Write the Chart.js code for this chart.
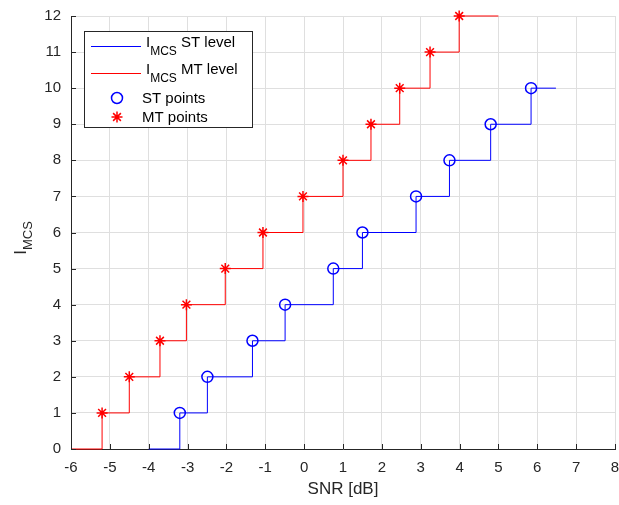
<!DOCTYPE html>
<html>
<head>
<meta charset="utf-8">
<script src="https://cdn.jsdelivr.net/npm/chart.js@4.4.0/dist/chart.umd.min.js"></script>
<style>
  html, body { margin: 0; padding: 0; background: #fff; }
</style>
</head>
<body>
<canvas id="chart" width="619" height="505"></canvas>
<script>
  // switching points (SNR in dB) for each MCS level
  const stLevels = [1, 2, 3, 4, 5, 6, 7, 8, 9, 10];
  const stSnr = [-3.2, -2.49, -1.33, -0.49, 0.75, 1.5, 2.88, 3.74, 4.8, 5.84];
  const mtLevels = [1, 2, 3, 4, 5, 6, 7, 8, 9, 10, 11, 12];
  const mtSnr = [-5.2, -4.5, -3.71, -3.03, -2.03, -1.06, -0.03, 1.0, 1.72, 2.46, 3.24, 3.99];
  // where the stair lines start (level 0) and end
  const stRange = [-4, 6.48];
  const mtRange = [-6, 5];
  const xTicks = [-6, -5, -4, -3, -2, -1, 0, 1, 2, 3, 4, 5, 6, 7, 8];
  const yTicks = [0, 1, 2, 3, 4, 5, 6, 7, 8, 9, 10, 11, 12];

  const FONT = "'Liberation Sans', Arial, Helvetica, sans-serif";
  const AXIS = '#262626';

  function points(xs, ys) {
    return xs.map((x, i) => ({ x: x, y: ys[i] }));
  }
  function stairs(xs, ys, range) {
    return [{ x: range[0], y: 0 }].concat(points(xs, ys), [{ x: range[1], y: ys[ys.length - 1] }]);
  }

  // inside tick marks, y label with subscript, legend box
  const matlabLook = {
    id: 'matlabLook',
    afterDraw(chart) {
      const ctx = chart.ctx;
      const xs = chart.scales.x, ys = chart.scales.y;
      const area = chart.chartArea;
      ctx.save();
      ctx.strokeStyle = AXIS;
      ctx.lineWidth = 1;
      ctx.beginPath();
      xTicks.forEach(v => {
        const px = Math.round(xs.getPixelForValue(v)) + 0.5;
        ctx.moveTo(px, area.bottom);
        ctx.lineTo(px, area.bottom - 5);
      });
      yTicks.forEach(v => {
        const py = Math.round(ys.getPixelForValue(v)) + 0.5;
        ctx.moveTo(area.left, py);
        ctx.lineTo(area.left + 5, py);
      });
      ctx.stroke();

      // y axis title I_MCS
      ctx.fillStyle = AXIS;
      ctx.translate(26, 238);
      ctx.rotate(-Math.PI / 2);
      ctx.font = '17px ' + FONT;
      const wI = ctx.measureText('I').width;
      ctx.font = '13px ' + FONT;
      const wSub = ctx.measureText('MCS').width;
      const x0 = -(wI + wSub) / 2;
      ctx.textBaseline = 'alphabetic';
      ctx.font = '17px ' + FONT;
      ctx.fillText('I', x0, 0);
      ctx.font = '13px ' + FONT;
      ctx.fillText('MCS', x0 + wI, 6);
      ctx.setTransform(1, 0, 0, 1, 0, 0);

      // legend
      const bx = 84.5, by = 31.5, bw = 168, bh = 96;
      ctx.fillStyle = '#fff';
      ctx.fillRect(bx, by, bw, bh);
      ctx.strokeStyle = AXIS;
      ctx.lineWidth = 1;
      ctx.strokeRect(bx, by, bw, bh);

      const entries = [
        { kind: 'line', color: '#0000ff', y: 46, sub: true, text: 'ST level' },
        { kind: 'line', color: '#ff0000', y: 73, sub: true, text: 'MT level' },
        { kind: 'circle', color: '#0000ff', y: 98, sub: false, text: 'ST points' },
        { kind: 'star', color: '#ff0000', y: 117, sub: false, text: 'MT points' }
      ];
      entries.forEach(e => {
        ctx.strokeStyle = e.color;
        if (e.kind === 'line') {
          ctx.lineWidth = 1;
          ctx.beginPath();
          ctx.moveTo(91, e.y + 0.5);
          ctx.lineTo(141, e.y + 0.5);
          ctx.stroke();
        } else {
          ctx.fillStyle = e.kind === 'circle' ? 'rgba(0,0,0,0)' : e.color;
          ctx.lineWidth = 1.5;
          Chart.helpers.drawPoint(ctx, {
            pointStyle: e.kind === 'circle' ? 'circle' : 'star',
            radius: 5.5, rotation: 0, borderWidth: 1.5
          }, 117, e.y);
        }
        ctx.fillStyle = '#000';
        ctx.textBaseline = 'alphabetic';
        if (e.sub) {
          ctx.font = '15px ' + FONT;
          ctx.fillText('I', 146, e.y + 1);
          const w = ctx.measureText('I').width;
          ctx.font = '12px ' + FONT;
          ctx.fillText('MCS', 146 + w, e.y + 9);
          const ws = ctx.measureText('MCS').width;
          ctx.font = '15px ' + FONT;
          ctx.fillText(' ' + e.text, 146 + w + ws, e.y + 1);
        } else {
          ctx.font = '15px ' + FONT;
          ctx.fillText(e.text, 142, e.y + 5);
        }
      });
      ctx.restore();
    }
  };

  new Chart(document.getElementById('chart'), {
    type: 'scatter',
    data: {
      datasets: [
        {
          type: 'line',
          data: stairs(stSnr, stLevels, stRange),
          borderColor: '#0000ff',
          borderWidth: 1,
          stepped: true,
          pointRadius: 0,
          fill: false,
          clip: false
        },
        {
          type: 'line',
          data: stairs(mtSnr, mtLevels, mtRange),
          borderColor: '#ff0000',
          borderWidth: 1,
          stepped: true,
          pointRadius: 0,
          fill: false,
          clip: false
        },
        {
          data: points(stSnr, stLevels),
          pointStyle: 'circle',
          pointRadius: 5.5,
          borderColor: '#0000ff',
          backgroundColor: 'rgba(0,0,0,0)',
          borderWidth: 1.5,
          clip: false
        },
        {
          data: points(mtSnr, mtLevels),
          pointStyle: 'star',
          pointRadius: 5.5,
          borderColor: '#ff0000',
          backgroundColor: '#ff0000',
          borderWidth: 1.5,
          clip: false
        }
      ]
    },
    options: {
      responsive: false,
      animation: false,
      devicePixelRatio: 1,
      layout: {
        autoPadding: false,
        padding: { left: 0, top: 16, right: 4, bottom: 0 }
      },
      plugins: {
        legend: { display: false },
        tooltip: { enabled: false }
      },
      scales: {
        x: {
          type: 'linear',
          min: -6,
          max: 8,
          afterBuildTicks: axis => { axis.ticks = xTicks.map(v => ({ value: v })); },
          afterFit: axis => {
            axis.height = 56;
            axis.paddingLeft = 0;
            axis.paddingRight = 0;
          },
          ticks: {
            color: AXIS,
            padding: 10,
            maxRotation: 0,
            font: { family: FONT, size: 15 }
          },
          grid: { color: '#dfdfdf', drawTicks: false },
          border: { color: AXIS, width: 1 },
          title: {
            display: true,
            text: 'SNR [dB]',
            color: AXIS,
            padding: { top: 0, bottom: 5 },
            font: { family: FONT, size: 17 }
          }
        },
        y: {
          type: 'linear',
          min: 0,
          max: 12,
          afterBuildTicks: axis => { axis.ticks = yTicks.map(v => ({ value: v })); },
          afterFit: axis => {
            axis.width = 71;
            axis.paddingTop = 0;
            axis.paddingBottom = 0;
          },
          ticks: {
            color: AXIS,
            padding: 10,
            font: { family: FONT, size: 15 }
          },
          grid: { color: '#dfdfdf', drawTicks: false },
          border: { color: AXIS, width: 1 }
        }
      }
    },
    plugins: [matlabLook]
  });
</script>
</body>
</html>
